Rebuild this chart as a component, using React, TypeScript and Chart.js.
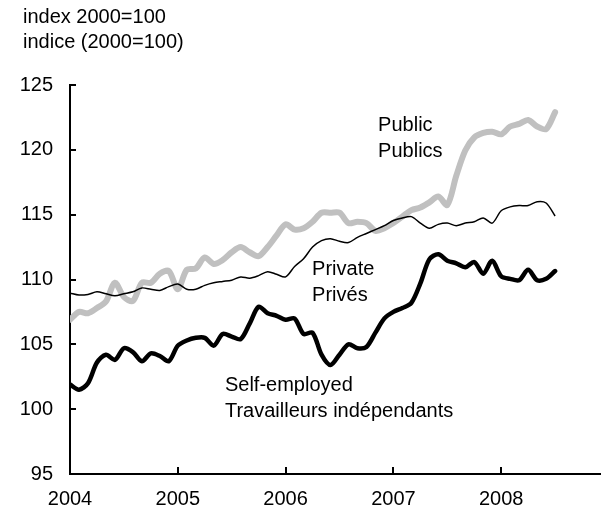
import { useEffect, useRef } from "react";
import { Chart, registerables } from "chart.js";

Chart.register(...registerables);

// Monthly observations, Jan 2004 .. Jul 2008 (index 0 = Jan 2004)
const yearLabels = ["2004", "2005", "2006", "2007", "2008"];
const yearTickIndex = [0, 12, 24, 36, 48];
const yTicks = [95, 100, 105, 110, 115, 120, 125];

const publicSector = [
  106.9, 107.5, 107.4, 107.8, 108.3, 109.75, 108.65, 108.35, 109.75, 109.75, 110.45, 110.65,
  109.25, 110.75, 110.85, 111.7, 111.2, 111.5, 112.1, 112.5, 112.1, 111.8, 112.5, 113.4,
  114.25, 113.85, 113.95, 114.45, 115.15, 115.15, 115.15, 114.35, 114.45, 114.35, 113.75, 113.95,
  114.35, 114.85, 115.35, 115.55, 115.95, 116.4, 115.75, 118.0, 119.95, 120.95, 121.3, 121.4,
  121.2, 121.8, 122.0, 122.3, 121.8, 121.6, 122.9,
];

const privateSector = [
  108.95, 108.8, 108.85, 109.05, 108.9, 108.75, 108.9, 109.05, 109.35, 109.25, 109.15, 109.45,
  109.65, 109.25, 109.25, 109.55, 109.75, 109.85, 109.95, 110.2, 110.1, 110.3, 110.6, 110.4,
  110.2, 111.0, 111.6, 112.5, 113.0, 113.15, 112.95, 112.85, 113.25, 113.55, 113.85, 114.15,
  114.55, 114.75, 114.85, 114.35, 113.95, 114.25, 114.35, 114.15, 114.35, 114.45, 114.75, 114.35,
  115.3, 115.6, 115.7, 115.7, 116.0, 115.9, 114.9,
];

const selfEmployed = [
  101.9, 101.5, 102.0, 103.6, 104.2, 103.8, 104.7, 104.4, 103.7, 104.3, 104.1, 103.7,
  104.9, 105.3, 105.5, 105.5, 104.9, 105.8, 105.6, 105.4, 106.6, 107.9, 107.4, 107.2,
  106.9, 107.0, 105.8, 105.9, 104.2, 103.4, 104.2, 105.0, 104.7, 104.8, 105.9, 107.0,
  107.5, 107.8, 108.2, 109.7, 111.55, 111.95, 111.45, 111.25, 110.95, 111.35, 110.45, 111.45,
  110.25, 110.05, 109.95, 110.75, 109.95, 110.05, 110.65,
];

const headerLines = ["index 2000=100", "indice (2000=100)"];

// label anchors in data units (month index, index value)
const seriesLabels = [
  { lines: ["Public", "Publics"], x: 34.3, y: 121.85 },
  { lines: ["Private", "Privés"], x: 26.95, y: 110.75 },
  { lines: ["Self-employed", "Travailleurs indépendants"], x: 17.25, y: 101.8 },
];

const FONT = '"Liberation Sans", Arial, sans-serif';
const FONT_SIZE = 20;

const toPoints = (arr: number[]) => arr.map((v, i) => ({ x: i, y: v }));

const annotPlugin = {
  id: "annot",
  afterDraw(chart: any) {
    const { ctx, chartArea } = chart;
    const x = chart.scales.x;
    const y = chart.scales.y;
    ctx.save();
    ctx.fillStyle = "#000";
    ctx.font = `${FONT_SIZE}px ${FONT}`;
    ctx.textBaseline = "middle";
    ctx.textAlign = "left";
    headerLines.forEach((t, i) => ctx.fillText(t, 23, 17 + i * 25));
    seriesLabels.forEach((s) => {
      const px = x.getPixelForValue(s.x);
      const py = y.getPixelForValue(s.y);
      s.lines.forEach((t, i) => ctx.fillText(t, px, py + i * 26));
    });
    // inward tick marks
    ctx.strokeStyle = "#000";
    ctx.lineWidth = 2;
    ctx.beginPath();
    yTicks.forEach((v) => {
      const py = Math.round(y.getPixelForValue(v));
      ctx.moveTo(chartArea.left, py);
      ctx.lineTo(chartArea.left + 6, py);
    });
    yearTickIndex.forEach((v) => {
      const px = Math.round(x.getPixelForValue(v));
      ctx.moveTo(px, chartArea.bottom);
      ctx.lineTo(px, chartArea.bottom - 7);
    });
    ctx.stroke();
    ctx.restore();
  },
};

export default function App() {
  const ref = useRef<HTMLCanvasElement | null>(null);

  useEffect(() => {
    if (!ref.current) return;
    const chart = new Chart(ref.current, {
      type: "line",
      data: {
        datasets: [
          {
            label: "Self-employed",
            data: toPoints(selfEmployed),
            borderColor: "#000000",
            borderWidth: 4.5,
            pointRadius: 0,
            tension: 0.3,
            borderCapStyle: "round",
            borderJoinStyle: "round",
            order: 1,
          },
          {
            label: "Private",
            data: toPoints(privateSector),
            borderColor: "#000000",
            borderWidth: 1.5,
            pointRadius: 0,
            tension: 0.3,
            order: 2,
          },
          {
            label: "Public",
            data: toPoints(publicSector),
            borderColor: "#c0c0c0",
            borderWidth: 6,
            pointRadius: 0,
            tension: 0.3,
            borderCapStyle: "round",
            borderJoinStyle: "round",
            order: 3,
          },
        ],
      },
      options: {
        animation: false,
        responsive: false,
        maintainAspectRatio: false,
        layout: { padding: { top: 85, right: 4, bottom: 0, left: 0 } },
        plugins: {
          legend: { display: false },
          tooltip: { enabled: false },
          title: { display: false },
        },
        scales: {
          x: {
            type: "linear",
            min: 0,
            max: 59,
            afterFit: (s: any) => {
              s.height = 41;
            },
            afterBuildTicks: (s: any) => {
              s.ticks = yearTickIndex.map((v) => ({ value: v }));
            },
            grid: { display: false, drawTicks: false },
            border: { display: true, color: "#000", width: 2 },
            ticks: {
              autoSkip: false,
              maxRotation: 0,
              padding: 13,
              color: "#000",
              font: { family: FONT, size: FONT_SIZE },
              callback: (v: any) => {
                const i = yearTickIndex.indexOf(Number(v));
                return i >= 0 ? yearLabels[i] : "";
              },
            },
          },
          y: {
            min: 95,
            max: 125,
            afterFit: (s: any) => {
              s.width = 70;
            },
            afterBuildTicks: (s: any) => {
              s.ticks = yTicks.map((v) => ({ value: v }));
            },
            grid: { display: false, drawTicks: false },
            border: { display: true, color: "#000", width: 2 },
            ticks: {
              padding: 17,
              color: "#000",
              font: { family: FONT, size: FONT_SIZE },
            },
          },
        },
      },
      plugins: [annotPlugin],
    });
    return () => chart.destroy();
  }, []);

  return (
    <div style={{ position: "absolute", left: 0, top: 0, width: 604, height: 515, background: "#fff" }}>
      <canvas ref={ref} width={604} height={515} style={{ width: 604, height: 515, display: "block" }} />
    </div>
  );
}
